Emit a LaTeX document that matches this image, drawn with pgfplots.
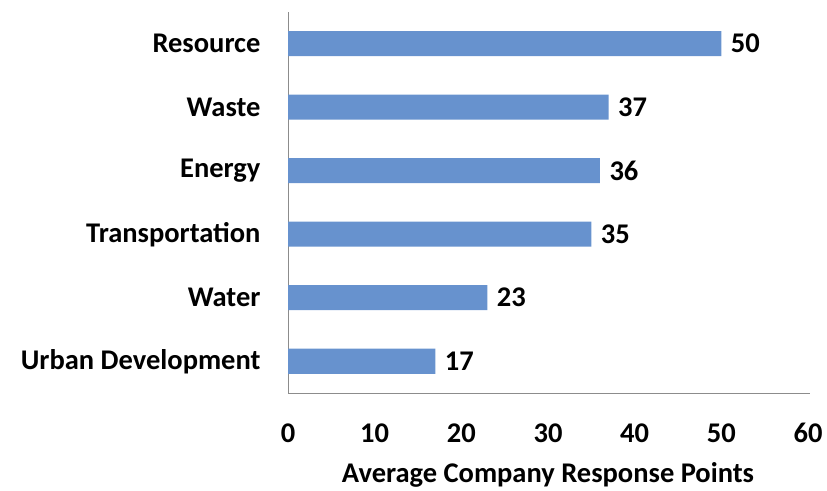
\documentclass[border=0pt]{standalone}
\usepackage{fontspec}
\setmainfont{Carlito}
\usepackage{pgfplots}
\pgfplotsset{compat=1.18}
\definecolor{barblue}{RGB}{103,146,206}
\definecolor{axgray}{RGB}{140,140,140}

\begin{document}
\begin{tikzpicture}
\path[use as bounding box] (0,0) rectangle (827bp,491bp);
\begin{axis}[
    at={(288bp,98bp)}, anchor=south west,
    scale only axis, width=520bp, height=381bp,
    xbar, bar width=25bp,
    xmin=0, xmax=60, ymin=-0.5, ymax=5.5,
    xtick={0,10,...,60}, ytick={0,...,5},
    yticklabels={Urban Development,Water,Transportation,Energy,Waste,Resource},
    axis x line*=bottom, axis y line*=left,
    axis line style={axgray, line width=0.8pt},
    x axis line style={-, shorten >=-2bp},
    y axis line style={-},
    major tick length=0pt,
    font=\fontsize{28.5bp}{34bp}\selectfont\bfseries,
    /pgf/number format/assume math mode=true,
    xticklabel style={yshift=-27bp},
    yticklabel style={xshift=-24bp},
    xlabel={Average Company Response Points},
    xlabel style={yshift=-12bp},
    nodes near coords,
    nodes near coords style={anchor=west, xshift=6bp},
]
\addplot[fill=barblue, draw=none] coordinates {(17,0) (23,1) (35,2) (36,3) (37,4) (50,5)};
\end{axis}
\end{tikzpicture}
\end{document}
